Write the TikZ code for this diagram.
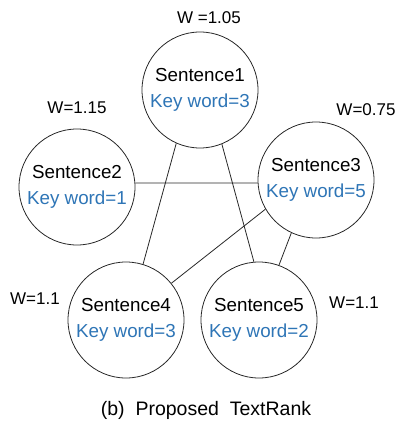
\documentclass[tikz,border=0pt]{standalone}
\usepackage{fontspec}
\setmainfont{Liberation Sans}
\definecolor{kwblue}{RGB}{46,117,182}
\definecolor{linegray}{RGB}{40,40,40}
\begin{document}
\begin{tikzpicture}[x=1pt,y=-1pt,
  sent/.style={circle,draw=linegray,line width=0.8pt,minimum size=116pt,inner sep=0pt,align=center,font=\fontsize{18.8}{26}\selectfont},
  edge/.style={draw=linegray,line width=0.8pt},
  wlab/.style={font=\fontsize{17}{20}\selectfont,inner sep=0pt}]
\useasboundingbox (0,0) rectangle (402,422);
\node[sent] (s1) at (200,90) {Sentence1\\\textcolor{kwblue}{Key word=3}};
\node[sent] (s2) at (77,187) {Sentence2\\\textcolor{kwblue}{Key word=1}};
\node[sent] (s3) at (316,180) {Sentence3\\\textcolor{kwblue}{Key word=5}};
\node[sent] (s4) at (126,320) {Sentence4\\\textcolor{kwblue}{Key word=3}};
\node[sent] (s5) at (259,320) {Sentence5\\\textcolor{kwblue}{Key word=2}};
\draw[edge] (s1.246) -- (s4.73);
\draw[edge] (s1.292) -- (s5.95);
\draw[edge] (s2.4) -- (s3.183);
\draw[edge] (s3.210) -- (s4.39);
\draw[edge] (s3.245) -- (s5.70);
\node[wlab] (w1) at (209,18) {W =1.05};
\node[wlab] (w2) at (77,108) {W=1.15};
\node[wlab] (w3) at (366,110) {W=0.75};
\node[wlab] (w4) at (35,299) {W=1.1};
\node[wlab] (w5) at (354,303) {W=1.1};
\node[wlab,font=\fontsize{19.5}{22}\selectfont] (cap) at (206,410) {(b)\ \ Proposed\ \ TextRank};
\end{tikzpicture}
\end{document}
